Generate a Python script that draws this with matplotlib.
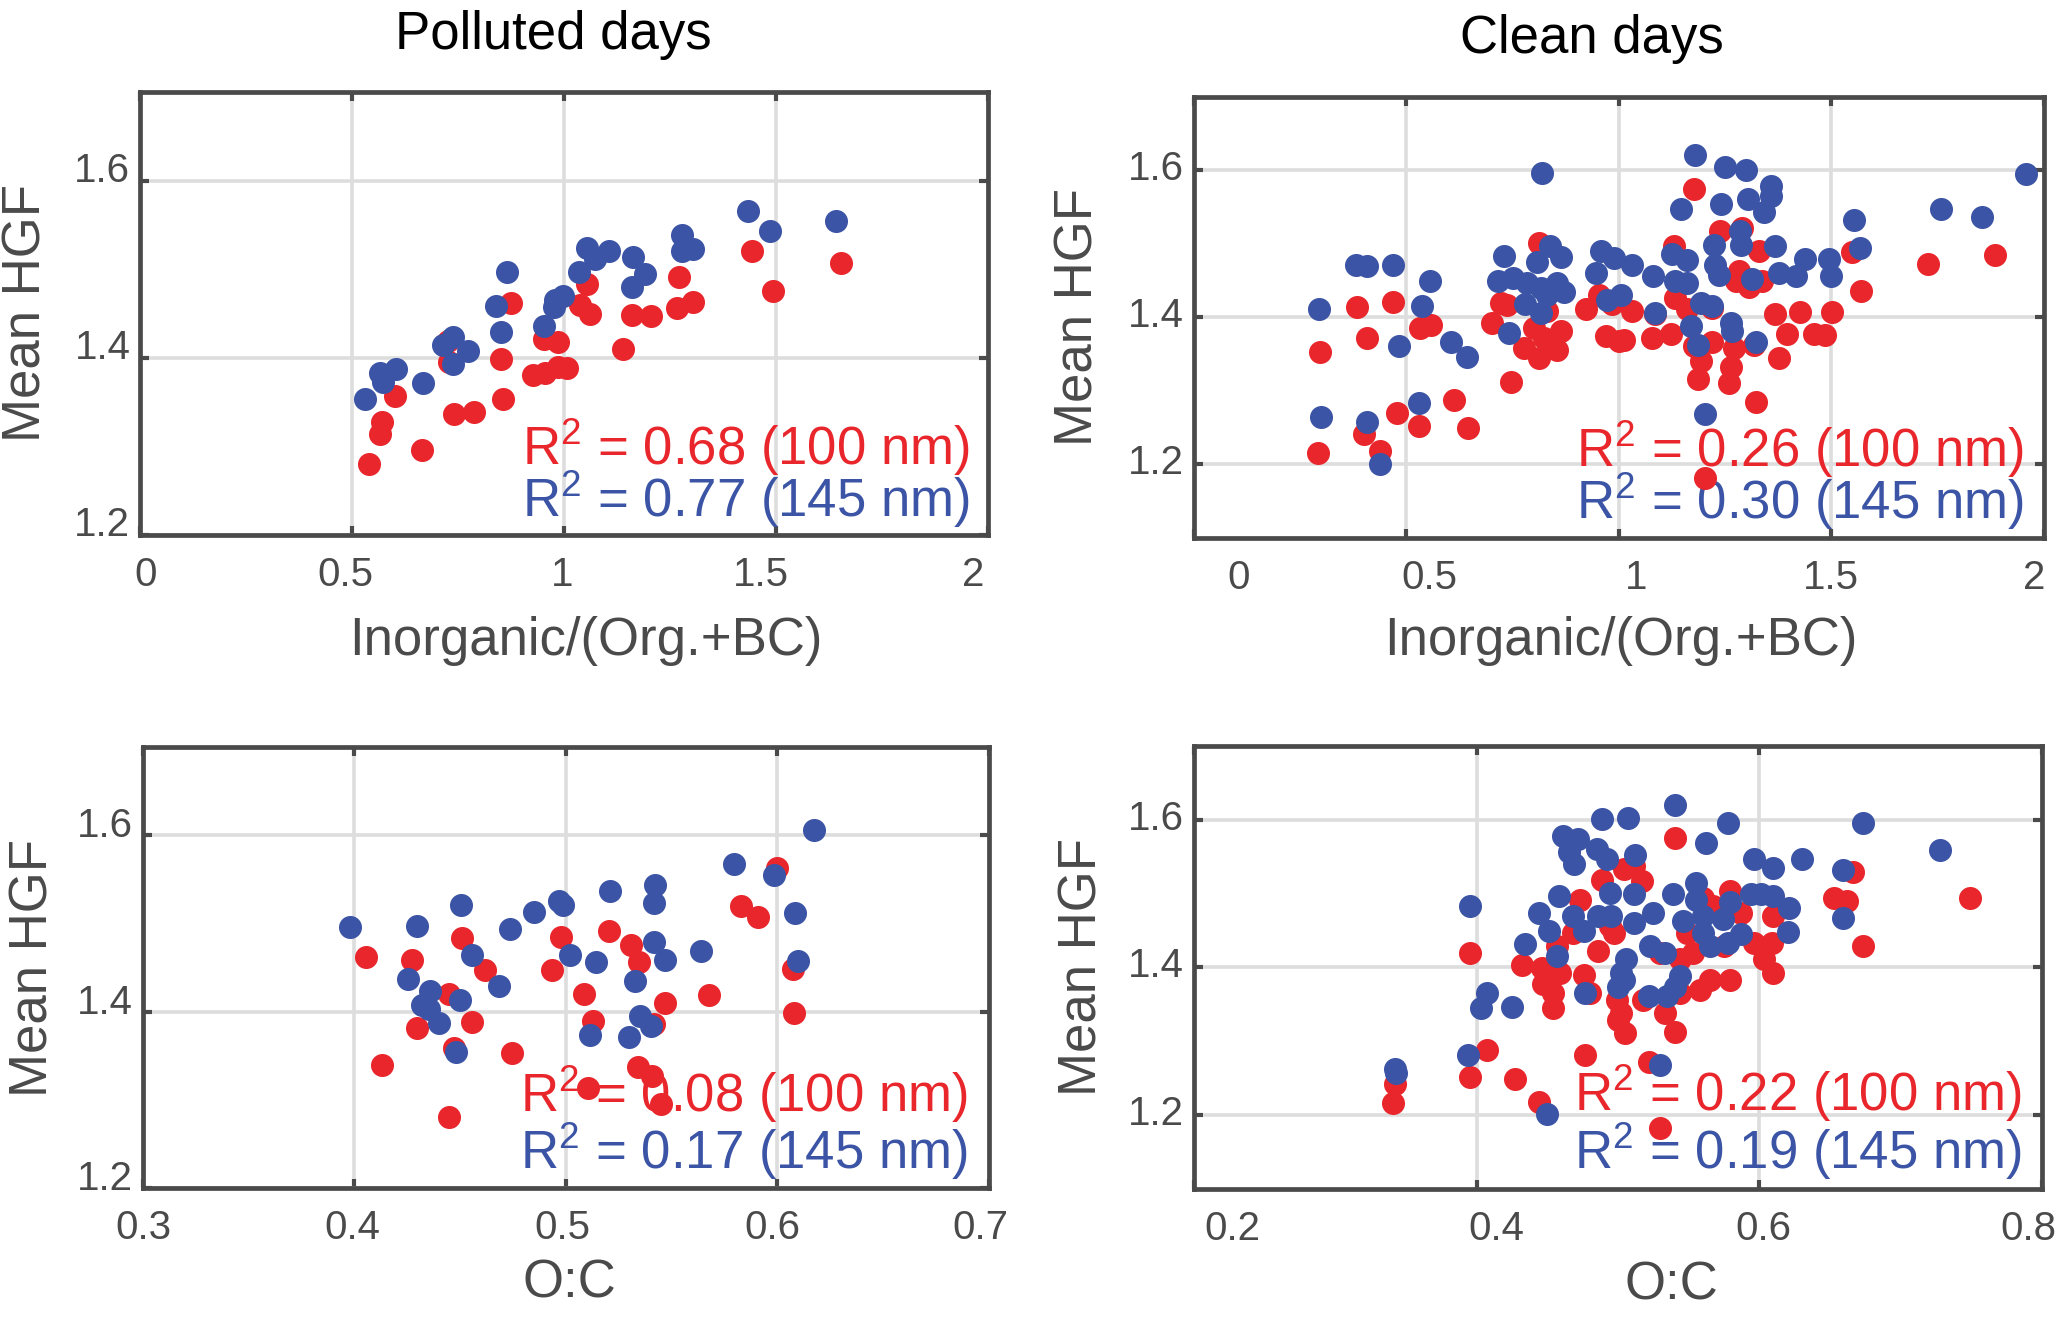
import matplotlib
matplotlib.use("Agg")
import matplotlib.pyplot as plt
from matplotlib.transforms import ScaledTranslation

plt.rcParams['font.family'] = ['Liberation Sans', 'DejaVu Sans']
plt.rcParams['mathtext.fontset'] = 'custom'
plt.rcParams['mathtext.rm'] = 'Liberation Sans'

# ---------------- data ----------------
# Polluted days, Inorganic/(Org.+BC) vs mean HGF
pol_inorg_100 = [0.539, 0.565, 0.571, 0.600, 0.664, 0.726, 0.728, 0.741, 0.788, 0.850,
                 0.856, 0.874, 0.927, 0.956, 0.953, 0.985, 0.985, 1.006, 1.055, 1.038,
                 1.062, 1.138, 1.160, 1.206, 1.271, 1.267, 1.303, 1.444, 1.492, 1.654]
pol_hgf_inorg_100 = [1.280, 1.314, 1.328, 1.357, 1.296, 1.419, 1.395, 1.336, 1.339, 1.399,
                     1.353, 1.462, 1.380, 1.383, 1.421, 1.418, 1.389, 1.388, 1.483, 1.459,
                     1.449, 1.410, 1.448, 1.447, 1.491, 1.456, 1.463, 1.520, 1.475, 1.507]
pol_inorg_145 = [0.531, 0.565, 0.574, 0.603, 0.668, 0.715, 0.738, 0.738, 0.774, 0.840,
                 0.850, 0.865, 0.953, 0.976, 0.979, 0.997, 1.036, 1.055, 1.072, 1.106,
                 1.162, 1.160, 1.190, 1.279, 1.277, 1.303, 1.433, 1.486, 1.640]
pol_hgf_inorg_145 = [1.354, 1.383, 1.373, 1.387, 1.371, 1.414, 1.423, 1.393, 1.408, 1.458,
                     1.429, 1.497, 1.436, 1.457, 1.465, 1.470, 1.497, 1.524, 1.512, 1.520,
                     1.514, 1.480, 1.494, 1.538, 1.521, 1.523, 1.566, 1.543, 1.554]

# Clean days, Inorganic/(Org.+BC) vs mean HGF
cln_inorg_100 = [0.292, 0.296, 0.383, 0.407, 0.400, 0.438, 0.469, 0.478, 0.529, 0.533,
                 0.557, 0.612, 0.645, 0.745, 0.702, 0.722, 0.737, 0.812, 0.776, 0.812,
                 0.800, 0.855, 0.863, 0.831, 0.824, 0.922, 0.953, 0.969, 1.000, 0.984,
                 1.012, 1.030, 1.078, 1.085, 1.122, 1.129, 1.132, 1.161, 1.177, 1.177,
                 1.187, 1.194, 1.220, 1.220, 1.239, 1.259, 1.263, 1.271, 1.290, 1.282,
                 1.275, 1.306, 1.329, 1.337, 1.322, 1.318, 1.367, 1.376, 1.396, 1.427,
                 1.459, 1.485, 1.502, 1.549, 1.570, 1.727, 1.884, 1.202]
cln_hgf_inorg_100 = [1.216, 1.353, 1.414, 1.372, 1.241, 1.218, 1.421, 1.270, 1.252, 1.386,
                     1.390, 1.288, 1.249, 1.312, 1.392, 1.419, 1.417, 1.501, 1.359, 1.345,
                     1.386, 1.356, 1.381, 1.409, 1.372, 1.411, 1.431, 1.375, 1.368, 1.418,
                     1.370, 1.409, 1.372, 1.405, 1.378, 1.497, 1.427, 1.411, 1.575, 1.361,
                     1.316, 1.341, 1.366, 1.413, 1.517, 1.311, 1.332, 1.359, 1.522, 1.463,
                     1.450, 1.441, 1.491, 1.450, 1.285, 1.363, 1.405, 1.345, 1.377, 1.407,
                     1.377, 1.376, 1.407, 1.489, 1.436, 1.473, 1.485, 1.182]
cln_inorg_145 = [0.295, 0.299, 0.382, 0.408, 0.468, 0.408, 0.437, 0.482, 0.536, 0.555,
                 0.530, 0.604, 0.643, 0.729, 0.715, 0.751, 0.741, 0.780, 0.784, 0.816,
                 0.820, 0.808, 0.838, 0.863, 0.855, 0.816, 0.871, 0.957, 0.945, 0.988,
                 0.973, 1.004, 0.831, 1.031, 1.080, 1.086, 1.124, 1.133, 1.161, 1.161,
                 1.178, 1.147, 1.192, 1.220, 1.169, 1.187, 1.202, 1.224, 1.227, 1.235,
                 1.241, 1.249, 1.298, 1.286, 1.288, 1.304, 1.263, 1.267, 1.314, 1.322,
                 1.341, 1.357, 1.357, 1.367, 1.376, 1.416, 1.439, 1.494, 1.500, 1.553,
                 1.567, 1.758, 1.855, 1.959]
cln_hgf_inorg_145 = [1.412, 1.264, 1.471, 1.470, 1.472, 1.258, 1.201, 1.361, 1.415, 1.450,
                     1.283, 1.366, 1.346, 1.484, 1.449, 1.454, 1.379, 1.418, 1.447, 1.406,
                     1.597, 1.475, 1.497, 1.482, 1.447, 1.440, 1.434, 1.490, 1.461, 1.481,
                     1.424, 1.431, 1.431, 1.472, 1.456, 1.406, 1.486, 1.450, 1.478, 1.447,
                     1.621, 1.548, 1.419, 1.415, 1.388, 1.362, 1.269, 1.499, 1.472, 1.458,
                     1.554, 1.605, 1.600, 1.517, 1.499, 1.561, 1.393, 1.382, 1.453, 1.367,
                     1.543, 1.579, 1.565, 1.497, 1.460, 1.456, 1.479, 1.480, 1.456, 1.532,
                     1.495, 1.548, 1.537, 1.595]

# Polluted days, O:C vs mean HGF
pol_oc_100 = [0.4056, 0.4271, 0.4131, 0.4294, 0.4446, 0.4507, 0.4615, 0.4558, 0.4469, 0.4446,
              0.4743, 0.4935, 0.4976, 0.5086, 0.5130, 0.5104, 0.5204, 0.5306, 0.5347, 0.5416,
              0.5470, 0.5339, 0.5408, 0.5449, 0.5675, 0.5826, 0.5910, 0.5997, 0.6074, 0.6079]
pol_hgf_oc_100 = [1.462, 1.458, 1.340, 1.381, 1.420, 1.484, 1.447, 1.388, 1.359, 1.280,
                  1.353, 1.447, 1.485, 1.420, 1.389, 1.314, 1.491, 1.476, 1.456, 1.386,
                  1.410, 1.337, 1.327, 1.295, 1.419, 1.520, 1.507, 1.563, 1.448, 1.398]
pol_oc_145 = [0.3977, 0.4297, 0.4502, 0.4251, 0.4356, 0.4318, 0.4353, 0.4402, 0.4497, 0.4558,
              0.4481, 0.4681, 0.4737, 0.4848, 0.4968, 0.4988, 0.5017, 0.5142, 0.5114, 0.5206,
              0.5296, 0.5324, 0.5352, 0.5403, 0.5414, 0.5419, 0.5416, 0.5467, 0.5639, 0.5795,
              0.5985, 0.6082, 0.6095, 0.6174]
pol_hgf_oc_145 = [1.496, 1.497, 1.521, 1.437, 1.423, 1.408, 1.403, 1.387, 1.413, 1.464,
                  1.354, 1.429, 1.494, 1.513, 1.525, 1.521, 1.464, 1.456, 1.373, 1.537,
                  1.371, 1.435, 1.395, 1.384, 1.479, 1.543, 1.523, 1.458, 1.469, 1.567,
                  1.555, 1.512, 1.457, 1.606]

# Clean days, O:C vs mean HGF
cln_oc_100 = [0.341, 0.342, 0.395, 0.395, 0.407, 0.427, 0.444, 0.432, 0.446, 0.447,
              0.454, 0.454, 0.457, 0.459, 0.468, 0.473, 0.477, 0.476, 0.480, 0.486,
              0.489, 0.494, 0.499, 0.500, 0.504, 0.540, 0.511, 0.517, 0.497, 0.505,
              0.502, 0.518, 0.533, 0.540, 0.522, 0.530, 0.544, 0.544, 0.558, 0.565,
              0.579, 0.575, 0.567, 0.579, 0.587, 0.596, 0.603, 0.610, 0.609, 0.610,
              0.553, 0.530, 0.653, 0.662, 0.666, 0.673, 0.749, 0.560, 0.549]
cln_hgf_oc_100 = [1.216, 1.242, 1.419, 1.252, 1.288, 1.249, 1.218, 1.403, 1.399, 1.377,
                  1.345, 1.365, 1.429, 1.393, 1.447, 1.492, 1.282, 1.390, 1.365, 1.422,
                  1.519, 1.456, 1.356, 1.329, 1.533, 1.575, 1.537, 1.517, 1.447, 1.311,
                  1.338, 1.356, 1.338, 1.313, 1.272, 1.182, 1.411, 1.365, 1.370, 1.383,
                  1.383, 1.429, 1.483, 1.504, 1.474, 1.433, 1.411, 1.393, 1.433, 1.470,
                  1.420, 1.420, 1.494, 1.490, 1.529, 1.429, 1.494, 1.494, 1.447]
cln_oc_145 = [0.342, 0.343, 0.395, 0.394, 0.407, 0.403, 0.425, 0.434, 0.450, 0.444,
              0.451, 0.457, 0.458, 0.461, 0.472, 0.465, 0.469, 0.468, 0.476, 0.485,
              0.492, 0.489, 0.477, 0.486, 0.494, 0.495, 0.502, 0.500, 0.507, 0.540,
              0.578, 0.562, 0.512, 0.596, 0.610, 0.630, 0.659, 0.673, 0.728, 0.659,
              0.555, 0.539, 0.511, 0.525, 0.511, 0.555, 0.546, 0.560, 0.574, 0.579,
              0.594, 0.601, 0.610, 0.621, 0.620, 0.587, 0.578, 0.565, 0.560, 0.523,
              0.533, 0.506, 0.504, 0.544, 0.540, 0.535, 0.522, 0.530]
cln_hgf_oc_145 = [1.263, 1.257, 1.483, 1.282, 1.365, 1.345, 1.347, 1.432, 1.202, 1.474,
                  1.449, 1.415, 1.497, 1.578, 1.574, 1.556, 1.540, 1.470, 1.449, 1.560,
                  1.547, 1.601, 1.365, 1.470, 1.501, 1.470, 1.393, 1.374, 1.603, 1.620,
                  1.596, 1.569, 1.552, 1.547, 1.535, 1.547, 1.532, 1.595, 1.559, 1.467,
                  1.514, 1.499, 1.499, 1.474, 1.460, 1.492, 1.463, 1.470, 1.465, 1.488,
                  1.499, 1.499, 1.497, 1.481, 1.448, 1.445, 1.433, 1.429, 1.447, 1.429,
                  1.420, 1.411, 1.383, 1.388, 1.374, 1.361, 1.361, 1.268]

titles = ["Polluted days", "Clean days"]
r2_text = [["0.68", "0.77"], ["0.26", "0.30"], ["0.08", "0.17"], ["0.22", "0.19"]]

# ---------------- style ----------------
RED = '#E8262B'
BLUE = '#3B54A5'
SPINE = '#4a4a4a'
TXT = '#4a4a4a'
GRID = '#dddddd'
MS = 275

fig = plt.figure(figsize=(20.66, 13.17), dpi=100)

positions = [
    [0.0678, 0.5938, 0.4105, 0.3364],
    [0.5779, 0.5915, 0.4114, 0.3349],
    [0.0692, 0.0979, 0.4095, 0.3349],
    [0.5779, 0.0972, 0.4105, 0.3364],
]
panels = [
    (pol_inorg_100, pol_hgf_inorg_100, pol_inorg_145, pol_hgf_inorg_145),
    (cln_inorg_100, cln_hgf_inorg_100, cln_inorg_145, cln_hgf_inorg_145),
    (pol_oc_100, pol_hgf_oc_100, pol_oc_145, pol_hgf_oc_145),
    (cln_oc_100, cln_hgf_oc_100, cln_oc_145, cln_hgf_oc_145),
]
xlims = [(0, 2), (0, 2), (0.3, 0.7), (0.2, 0.8)]
ylims = [(1.2, 1.7), (1.1, 1.7), (1.2, 1.7), (1.1, 1.7)]
xticks = [[0, 0.5, 1, 1.5, 2], [0, 0.5, 1, 1.5, 2],
          [0.3, 0.4, 0.5, 0.6, 0.7], [0.2, 0.4, 0.6, 0.8]]
xticklabels = [["0", "0.5", "1", "1.5", "2"], ["0", "0.5", "1", "1.5", "2"],
               ["0.3", "0.4", "0.5", "0.6", "0.7"], ["0.2", "0.4", "0.6", "0.8"]]
yticks = [1.2, 1.4, 1.6]
yticklabels = ["1.2", "1.4", "1.6"]
xlabels = ["Inorganic/(Org.+BC)", "Inorganic/(Org.+BC)", "O:C", "O:C"]
# label layout (pixel shifts / axes-fraction placements)
xtick_dx = [[6, -7, -2, -15, -15], [45, 23, 17, -1, -10],
            [0, -2, -4, -5, -9], [38, 20, 4, -14]]
ytick_dy = [14, 5, 13, 5]
xlabel_pos = [(0.526, -0.271), (0.502, -0.265), (0.504, -0.249), (0.5625, -0.25)]
ylabel_x = [-0.134, -0.136, -0.129, -0.131]
r2_pos = [(0.978, 0.158, 0.041), (0.976, 0.161, 0.044),
          (0.975, 0.172, 0.044), (0.976, 0.176, 0.046)]
title_pos = [(0.487, 1.097), (0.468, 1.10)]

for i, (pos, (x1, y1, x2, y2)) in enumerate(zip(positions, panels)):
    ax = fig.add_axes(pos)
    ax.set_axisbelow(True)
    ax.scatter(x1, y1, s=MS, c=RED, linewidths=0, zorder=3)
    ax.scatter(x2, y2, s=MS, c=BLUE, linewidths=0, zorder=4)
    ax.set_xlim(*xlims[i])
    ax.set_ylim(*ylims[i])
    ax.set_xticks(xticks[i])
    ax.set_xticklabels(xticklabels[i])
    ax.set_yticks(yticks)
    ax.set_yticklabels(yticklabels)
    ax.grid(True, color=GRID, linewidth=2.6)
    for sp in ax.spines.values():
        sp.set_color(SPINE)
        sp.set_linewidth(3.4)
    ax.tick_params(axis='both', which='both', direction='in', length=6.5, width=3.0,
                   color=SPINE, top=True, right=True, labelsize=29, labelcolor=TXT)
    ax.tick_params(axis='x', pad=15)
    ax.tick_params(axis='y', pad=7)

    # texts
    ax.text(xlabel_pos[i][0], xlabel_pos[i][1], xlabels[i], transform=ax.transAxes,
            ha='center', va='baseline', fontsize=38, color=TXT)
    ax.text(ylabel_x[i], 0.5, "Mean HGF", transform=ax.transAxes, rotation=90,
            ha='center', va='center', fontsize=38, color=TXT)
    rx, ry1, ry2 = r2_pos[i]
    ax.text(rx, ry1, r"R$^{\mathregular{2}}$ = " + r2_text[i][0] + " (100 nm)",
            transform=ax.transAxes, ha='right', va='baseline', fontsize=38,
            color=RED, zorder=2)
    ax.text(rx, ry2, r"R$^{\mathregular{2}}$ = " + r2_text[i][1] + " (145 nm)",
            transform=ax.transAxes, ha='right', va='baseline', fontsize=38,
            color=BLUE, zorder=2)
    if i < 2:
        ax.text(title_pos[i][0], title_pos[i][1], titles[i], transform=ax.transAxes,
                ha='center', va='baseline', fontsize=38, color='black')

    # shift tick labels to match the reference placement
    for lab, dx in zip(ax.get_xticklabels(), xtick_dx[i]):
        lab.set_transform(lab.get_transform() +
                          ScaledTranslation(dx / 100.0, 0, fig.dpi_scale_trans))
    for lab in ax.get_yticklabels():
        lab.set_transform(lab.get_transform() +
                          ScaledTranslation(0, ytick_dy[i] / 100.0, fig.dpi_scale_trans))

fig.savefig("out.png", dpi=100)
